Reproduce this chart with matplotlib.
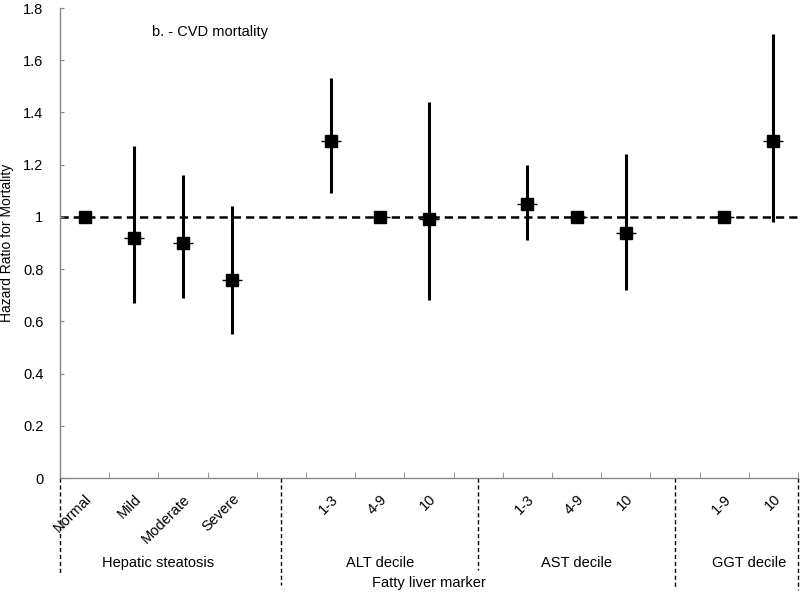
import matplotlib
matplotlib.use("Agg")
import matplotlib.pyplot as plt
from matplotlib.ticker import FixedLocator, FuncFormatter

plt.rcParams["font.family"] = ["Liberation Sans", "DejaVu Sans"]

# categories (blank slots separate the marker groups)
categories = ["Normal", "Mild", "Moderate", "Severe", "",
              "1-3", "4-9", "10", "",
              "1-3", "4-9", "10", "",
              "1-9", "10"]
hr = [1.00, 0.92, 0.90, 0.76, None,
      1.29, 1.00, 0.99, None,
      1.05, 1.00, 0.94, None,
      1.00, 1.29]
ci_low = [1.00, 0.67, 0.69, 0.55, None,
          1.09, 1.00, 0.68, None,
          0.91, 1.00, 0.72, None,
          1.00, 0.98]
ci_high = [1.00, 1.27, 1.16, 1.04, None,
           1.53, 1.00, 1.44, None,
           1.20, 1.00, 1.24, None,
           1.00, 1.70]
groups = ["Hepatic steatosis", "ALT decile", "AST decile", "GGT decile"]
group_span = [(0, 3), (5, 7), (9, 11), (13, 14)]
dividers = [-0.5, 4, 8, 12, 14.5]
divider_len = [97, 107, 92, 110, 112]  # pixels below the axis

fig = plt.figure(figsize=(8, 5.96), dpi=100)
ax = fig.add_axes([60 / 800, 118 / 596, 738 / 800, 470 / 596])

xs = [i for i, v in enumerate(hr) if v is not None]
ys = [hr[i] for i in xs]
lo = [hr[i] - ci_low[i] for i in xs]
hi = [ci_high[i] - hr[i] for i in xs]

ax.axhline(1, color="black", lw=1.8, ls=(0, (3.3, 2)), zorder=1)
ax.errorbar(xs, ys, yerr=[lo, hi], fmt="none", ecolor="black",
            elinewidth=2.2, capsize=0, zorder=2)
ax.plot(xs, ys, ls="none", marker="_", ms=15, mew=1, color="black", zorder=3)
ax.plot(xs, ys, ls="none", marker="s", ms=8.5, color="black", zorder=4)

ax.set_xlim(-0.5, 14.5)
ax.set_ylim(0, 1.8)
ax.yaxis.set_major_locator(FixedLocator([i * 0.2 for i in range(10)]))
ax.yaxis.set_major_formatter(FuncFormatter(lambda v, p: f"{v:g}" if v else "0"))

ax.set_xticks(range(len(categories)))
ax.set_xticklabels(categories, rotation=45, ha="right", rotation_mode="anchor",
                   fontsize=10.5)
ax.xaxis.set_minor_locator(FixedLocator([i - 0.5 for i in range(len(categories) + 1)]))
ax.tick_params(axis="x", which="major", length=0, pad=10)
ax.tick_params(axis="x", which="minor", length=4, direction="in", color="#888888")
ax.tick_params(axis="y", length=3, direction="in", color="#888888", labelsize=10.5, pad=12)

for s in ["top", "right"]:
    ax.spines[s].set_visible(False)
for s in ["left", "bottom"]:
    ax.spines[s].set_color("#888888")
    ax.spines[s].set_linewidth(1)

ax.set_ylabel("Hazard Ratio for Mortality", fontsize=10)
ax.yaxis.set_label_coords(-0.062, 0.5)

# group dividers and labels below axis
trans = ax.get_xaxis_transform()
px = 1 / 470
for d, L in zip(dividers, divider_len):
    ax.plot([d, d], [0, -L * px], transform=trans, color="black", lw=1,
            ls=(0, (3, 2)), clip_on=False)
for g, (a, b) in zip(groups, group_span):
    ax.text((a + b) / 2, -85 * px, g, transform=trans, ha="center", va="center",
            fontsize=10.5)
ax.text(7, -105 * px, "Fatty liver marker", transform=trans, ha="center",
        va="center", fontsize=10.5)

fig.text(152 / 800, 1 - 32 / 596, "b. - CVD mortality", fontsize=10.5, va="center")

fig.savefig("out.png", dpi=100)
